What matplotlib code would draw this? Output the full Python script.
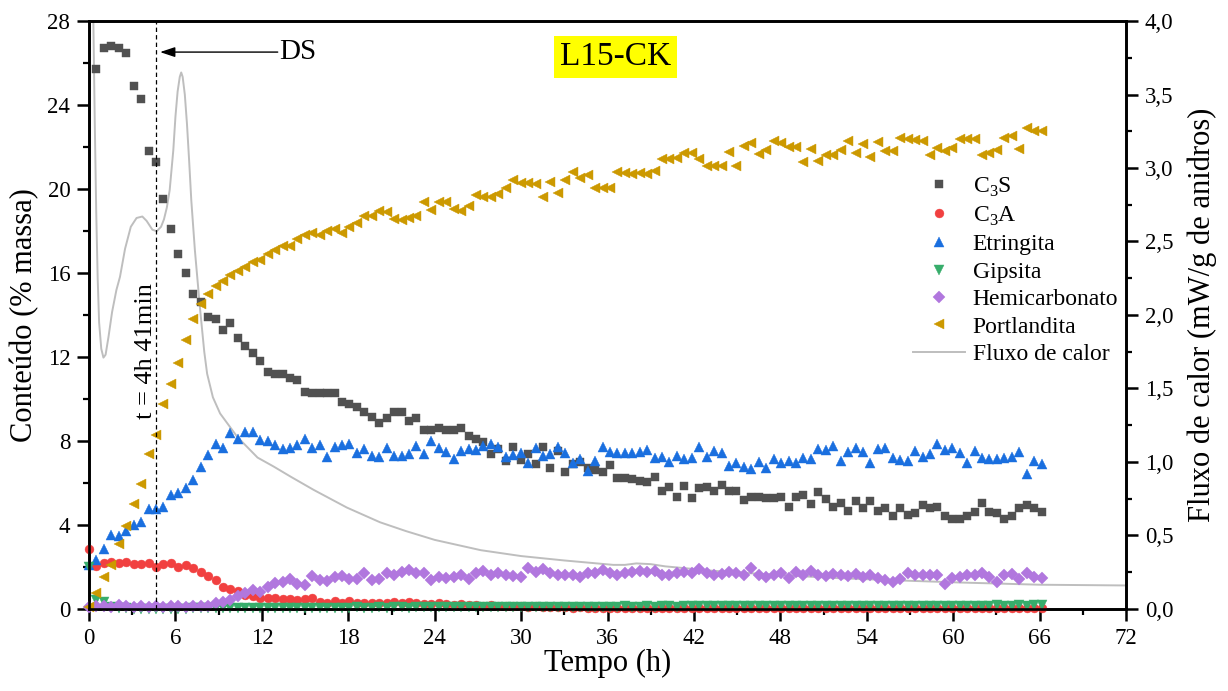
import numpy as np
import matplotlib
matplotlib.use("Agg")
import matplotlib.pyplot as plt
from matplotlib.ticker import MultipleLocator, FuncFormatter

plt.rcParams['font.family'] = ['Liberation Serif', 'DejaVu Serif']
plt.rcParams['mathtext.fontset'] = 'custom'
plt.rcParams['mathtext.rm'] = 'Liberation Serif'

# QXRD sampling: one pattern every 31 min
n_pts = 129
tempo_h = np.arange(n_pts) * 31 / 60

c3s = [np.nan, 25.7, 26.7, 26.8, 26.7, 26.5, 24.9, 24.3, 21.8, 21.3,
       19.5, 18.1, 16.9, 16.0, 15.0, 14.6, 13.9, 13.8, 13.3, 13.6,
       12.9, 12.5, 12.2, 11.8, 11.3, 11.2, 11.2, 11.0, 10.9, 10.35,
       10.3, 10.3, 10.3, 10.3, 9.86, 9.76, 9.6, 9.4, 9.14, 8.86,
       9.1, 9.4, 9.4, 8.95, 9.1, 8.5, 8.5, 8.6, 8.5, 8.5,
       8.6, 8.25, 8.1, 7.95, 7.4, 7.6, 7.05, 7.7, 7.1, 7.4,
       6.9, 7.7, 6.7, 7.5, 6.5, 6.9, 7.0, 6.7, 6.6, 6.5,
       6.85, 6.25, 6.25, 6.2, 6.1, 6.05, 6.3, 5.6, 5.8, 5.35,
       5.85, 5.3, 5.75, 5.8, 5.6, 5.9, 5.6, 5.6, 5.2, 5.35,
       5.35, 5.3, 5.3, 5.33, 4.86, 5.33, 5.43, 5.0, 5.57, 5.24,
       4.86, 5.05, 4.67, 5.14, 4.8, 5.14, 4.67, 4.8, 4.43, 4.8,
       4.48, 4.57, 4.95, 4.81, 4.86, 4.43, 4.29, 4.29, 4.43, 4.62,
       5.05, 4.62, 4.57, 4.29, 4.43, 4.81, 4.95, 4.81, 4.62]

c3a = [2.86, 2.05, 2.19, 2.24, 2.2, 2.24, 2.14, 2.14, 2.2, 2.0,
       2.14, 2.2, 2.0, 2.1, 1.95, 1.76, 1.57, 1.38, 1.05, 0.95,
       0.86, 0.67, 0.62, 0.52, 0.52, 0.52, 0.48, 0.48, 0.45, 0.48,
       0.52, 0.33, 0.3, 0.4, 0.3, 0.4, 0.3, 0.3, 0.3, 0.3,
       0.28, 0.33, 0.3, 0.35, 0.3, 0.25, 0.25, 0.28, 0.22, 0.2,
       0.22, 0.2, 0.18, 0.15, 0.18, 0.15, 0.12, 0.12, 0.15, 0.1,
       0.12, 0.1, 0.08, 0.1, 0.08, 0.06, 0.08, 0.05, 0.06, 0.05,
       0.05, 0.04, 0.05, 0.04, 0.05, 0.04, 0.04, 0.05, 0.04, 0.04,
       0.05, 0.04, 0.04, 0.03, 0.04, 0.04, 0.03, 0.04, 0.04, 0.03,
       0.04, 0.03, 0.04, 0.03, 0.03, 0.04, 0.03, 0.03, 0.04, 0.03,
       0.03, 0.04, 0.03, 0.03, 0.03, 0.04, 0.03, 0.03, 0.03, 0.04,
       0.03, 0.03, 0.03, 0.04, 0.03, 0.03, 0.03, 0.03, 0.04, 0.03,
       0.03, 0.03, 0.04, 0.03, 0.03, 0.03, 0.03, 0.04, 0.03]

etringita = [2.1, 2.33, 2.86, 3.52, 3.48, 3.71, 4.0, 4.14, 4.76, 4.76,
             4.86, 5.43, 5.52, 5.76, 6.14, 6.76, 7.33, 7.86, 7.67, 8.38,
             8.1, 8.43, 8.43, 8.05, 8.0, 7.81, 7.62, 7.67, 7.81, 8.1,
             7.67, 7.81, 7.24, 7.71, 7.81, 7.86, 7.43, 7.62, 7.29, 7.24,
             7.67, 7.29, 7.29, 7.38, 7.76, 7.38, 8.0, 7.67, 7.48, 7.14,
             7.52, 7.62, 7.57, 7.76, 7.86, 7.71, 7.24, 7.33, 7.43, 6.95,
             7.67, 7.29, 7.38, 7.71, 7.43, 6.95, 7.14, 6.57, 7.05, 7.71,
             7.48, 7.43, 7.43, 7.43, 7.48, 7.57, 7.19, 7.24, 7.0, 7.29,
             7.14, 7.19, 7.71, 7.24, 7.52, 7.43, 6.81, 6.95, 6.76, 6.67,
             7.0, 6.71, 7.14, 6.95, 7.05, 6.95, 7.19, 7.14, 7.62, 7.57,
             7.76, 7.05, 7.48, 7.67, 7.48, 6.95, 7.62, 7.67, 7.19, 7.1,
             7.05, 7.52, 7.24, 7.38, 7.86, 7.57, 7.67, 7.43, 6.95, 7.52,
             7.19, 7.14, 7.14, 7.19, 7.24, 7.48, 6.43, 7.05, 6.9]

gipsita = [2.0, 0.43, 0.33, 0.1, 0.05, 0.03, 0.02, 0.02, 0.02, 0.02,
           0.02, 0.02, 0.02, 0.02, 0.03, 0.03, 0.03, 0.04, 0.05, 0.05,
           0.05, 0.06, 0.05, 0.06, 0.06, 0.05, 0.06, 0.07, 0.06, 0.06,
           0.07, 0.06, 0.07, 0.07, 0.06, 0.07, 0.08, 0.07, 0.07, 0.08,
           0.07, 0.08, 0.08, 0.07, 0.08, 0.08, 0.09, 0.08, 0.08, 0.09,
           0.08, 0.09, 0.09, 0.1, 0.09, 0.09, 0.1, 0.09, 0.1, 0.1,
           0.1, 0.09, 0.1, 0.1, 0.11, 0.1, 0.1, 0.11, 0.1, 0.11,
           0.11, 0.11, 0.12, 0.11, 0.11, 0.12, 0.11, 0.12, 0.12, 0.11,
           0.12, 0.12, 0.13, 0.12, 0.12, 0.13, 0.12, 0.13, 0.13, 0.12,
           0.13, 0.13, 0.14, 0.13, 0.13, 0.14, 0.13, 0.14, 0.14, 0.13,
           0.14, 0.14, 0.15, 0.14, 0.14, 0.15, 0.14, 0.15, 0.15, 0.14,
           0.15, 0.15, 0.16, 0.15, 0.15, 0.16, 0.15, 0.16, 0.16, 0.15,
           0.16, 0.16, 0.17, 0.16, 0.16, 0.17, 0.16, 0.18, 0.17]

hemicarbonato = [0.1, 0.15, 0.12, 0.1, 0.18, 0.12, 0.1, 0.15, 0.1, 0.12,
                 0.1, 0.15, 0.12, 0.1, 0.15, 0.12, 0.15, 0.28, 0.35, 0.45,
                 0.62, 0.76, 0.9, 0.81, 1.05, 1.24, 1.29, 1.43, 1.19, 1.14,
                 1.57, 1.38, 1.33, 1.52, 1.57, 1.43, 1.43, 1.71, 1.38, 1.43,
                 1.71, 1.62, 1.76, 1.86, 1.71, 1.71, 1.38, 1.52, 1.48, 1.52,
                 1.62, 1.43, 1.71, 1.81, 1.62, 1.71, 1.62, 1.57, 1.52, 1.95,
                 1.76, 1.9, 1.71, 1.62, 1.62, 1.62, 1.52, 1.71, 1.71, 1.86,
                 1.71, 1.62, 1.71, 1.76, 1.81, 1.76, 1.81, 1.62, 1.62, 1.71,
                 1.76, 1.71, 1.9, 1.71, 1.62, 1.67, 1.76, 1.71, 1.62, 1.95,
                 1.62, 1.52, 1.62, 1.71, 1.48, 1.76, 1.62, 1.81, 1.62, 1.57,
                 1.67, 1.62, 1.57, 1.67, 1.52, 1.62, 1.48, 1.38, 1.29, 1.43,
                 1.71, 1.62, 1.62, 1.62, 1.62, 1.19, 1.48, 1.52, 1.62, 1.62,
                 1.71, 1.52, 1.29, 1.62, 1.67, 1.43, 1.71, 1.52, 1.48]

portlandita = [0.1, 0.75, 1.54, 2.1, 3.1, 3.95, 5.0, 5.95, 7.4, 8.3,
               9.75, 10.7, 11.7, 12.8, 13.8, 14.5, 15.0, 15.4, 15.6, 15.9,
               16.1, 16.3, 16.5, 16.6, 16.9, 17.1, 17.3, 17.3, 17.6, 17.8,
               17.9, 17.8, 18.0, 18.1, 17.9, 18.2, 18.4, 18.7, 18.7, 18.95,
               18.9, 18.57, 18.5, 18.6, 18.7, 19.4, 19.0, 19.4, 19.4, 19.05,
               18.95, 19.2, 19.7, 19.6, 19.6, 19.76, 20.05, 20.43, 20.29, 20.29,
               20.24, 19.6, 20.33, 19.8, 20.43, 20.8, 20.5, 20.67, 20.05, 20.05,
               20.05, 20.8, 20.76, 20.7, 20.76, 20.7, 20.86, 21.43, 21.43, 21.47,
               21.7, 21.7, 21.43, 21.1, 21.1, 21.1, 21.76, 21.1, 22.05, 22.2,
               21.67, 21.86, 22.3, 22.2, 22.0, 22.0, 21.3, 21.9, 21.33, 21.6,
               21.6, 21.86, 22.3, 21.7, 22.14, 21.52, 22.24, 21.8, 21.8, 22.43,
               22.38, 22.33, 22.3, 21.6, 21.95, 21.8, 21.95, 22.38, 22.38, 22.38,
               21.6, 21.7, 21.86, 22.43, 22.52, 21.9, 22.9, 22.76, 22.76]

# Isothermal calorimetry (mW/g of anhydrous binder)
fluxo_t = [0.15, 0.3, 0.4, 0.5, 0.6, 0.7, 0.85, 1.0, 1.15, 1.35, 1.6, 1.9,
           2.15, 2.5, 2.9, 3.3, 3.7, 4.0, 4.4, 4.7, 5.0, 5.2, 5.4, 5.6,
           5.85, 6.0, 6.15, 6.3, 6.4, 6.5, 6.65, 6.8, 6.95, 7.1, 7.35,
           7.7, 8.0, 8.2, 8.6, 9.1, 10.3, 11.7, 12.8, 14.0, 15.6, 17.9,
           20.2, 22.0, 24.0, 27.2, 30.0, 33.0, 36.4, 37.2, 38.0, 39.0,
           40.0, 43.3, 48.0, 52.0, 56.0, 60.5, 66.0, 72.0]
fluxo_calor = [5.0, 4.0, 3.3, 2.7, 2.25, 1.95, 1.77, 1.71, 1.73, 1.85, 2.02, 2.17,
               2.26, 2.45, 2.6, 2.66, 2.67, 2.64, 2.58, 2.57, 2.6, 2.65, 2.73, 2.85,
               3.12, 3.35, 3.52, 3.62, 3.65, 3.62, 3.5, 3.3, 3.05, 2.78, 2.44,
               2.05, 1.75, 1.6, 1.44, 1.33, 1.17, 1.03, 0.97, 0.9, 0.81, 0.69,
               0.59, 0.53, 0.47, 0.40, 0.36, 0.33, 0.30, 0.30, 0.31, 0.305,
               0.29, 0.26, 0.23, 0.21, 0.195, 0.18, 0.165, 0.16]

t_ds = 4 + 41 / 60  # end of dormant period

series = [
    ("C$_\\mathregular{3}$S", c3s, 's', 5.8, '#515151'),
    ("C$_\\mathregular{3}$A", c3a, 'o', 6.4, '#F14040'),
    ("Etringita", etringita, '^', 7.2, '#1A6FDF'),
    ("Gipsita", gipsita, 'v', 7.2, '#37AD6B'),
    ("Hemicarbonato", hemicarbonato, 'D', 6.4, '#B177DE'),
    ("Portlandita", portlandita, '<', 7.2, '#CC9900'),
]

fig = plt.figure(figsize=(12.28, 6.91), dpi=100)
ax = fig.add_axes([0.0725, 0.1187, 0.8445, 0.8509])
ax2 = ax.twinx()
ax.set_zorder(ax2.get_zorder() + 1)
ax.patch.set_visible(False)

handles = []
for label, vals, mk, ms, col in series:
    h, = ax.plot(tempo_h, vals, ls='none', marker=mk, ms=ms, color=col,
                 mec=col, mew=0.3, label=label, clip_on=False)
    handles.append(h)

fl, = ax2.plot(fluxo_t, fluxo_calor, color='#BEBEBE', lw=1.4,
               label='Fluxo de calor')
handles.append(fl)

ax.axvline(t_ds, color='black', ls=(0, (3.5, 2.5)), lw=0.9)

ax.set_xlim(0, 72)
ax.set_ylim(0, 28)
ax2.set_ylim(0, 4)

ax.xaxis.set_major_locator(MultipleLocator(6))
ax.xaxis.set_minor_locator(MultipleLocator(3))
ax.yaxis.set_major_locator(MultipleLocator(4))
ax.yaxis.set_minor_locator(MultipleLocator(2))
ax2.yaxis.set_major_locator(MultipleLocator(0.5))
ax2.yaxis.set_minor_locator(MultipleLocator(0.25))
ax2.yaxis.set_major_formatter(FuncFormatter(lambda v, p: f"{v:.1f}".replace('.', ',')))

for a in (ax, ax2):
    for s in a.spines.values():
        s.set_linewidth(1.9)
ax.tick_params(which='major', direction='out', length=8.5, width=1.8,
               labelsize=16.5, pad=5, top=False, right=False)
ax.tick_params(which='minor', direction='out', length=4.5, width=1.6,
               top=False, right=False)
ax2.tick_params(which='major', direction='out', length=8.5, width=1.8,
                labelsize=16.5, pad=5)
ax2.tick_params(which='minor', direction='out', length=4.5, width=1.6)

ax.set_xlabel('Tempo (h)', fontsize=22, labelpad=0)
ax.set_ylabel('Conteúdo (% massa)', fontsize=22, labelpad=6)
ax2.set_ylabel('Fluxo de calor (mW/g de anidros)', fontsize=22, labelpad=10)

ax.annotate('', xy=(4.93, 26.52), xytext=(13.1, 26.52),
            arrowprops=dict(arrowstyle='-|>,head_length=0.9,head_width=0.3',
                            color='black', lw=1.0, shrinkA=0, shrinkB=0))
ax.text(13.2, 26.52, 'DS', fontsize=21, va='center', ha='left')
ax.text(3.95, 12.3, 't = 4h 41min', fontsize=19, rotation=90,
        va='center', ha='center')

ax.text(0.508, 0.939, 'L15-CK', transform=ax.transAxes, fontsize=24,
        ha='center', va='center',
        bbox=dict(boxstyle='square,pad=0.18', fc='#FFFF00', ec='none'))

ax.legend(handles, [h.get_label() for h in handles], loc='upper left',
          bbox_to_anchor=(0.795, 0.737), frameon=False, fontsize=17,
          labelspacing=0.25, handlelength=2.2, handletextpad=0.3,
          borderpad=0, borderaxespad=0)

fig.savefig('out.png', dpi=100)
